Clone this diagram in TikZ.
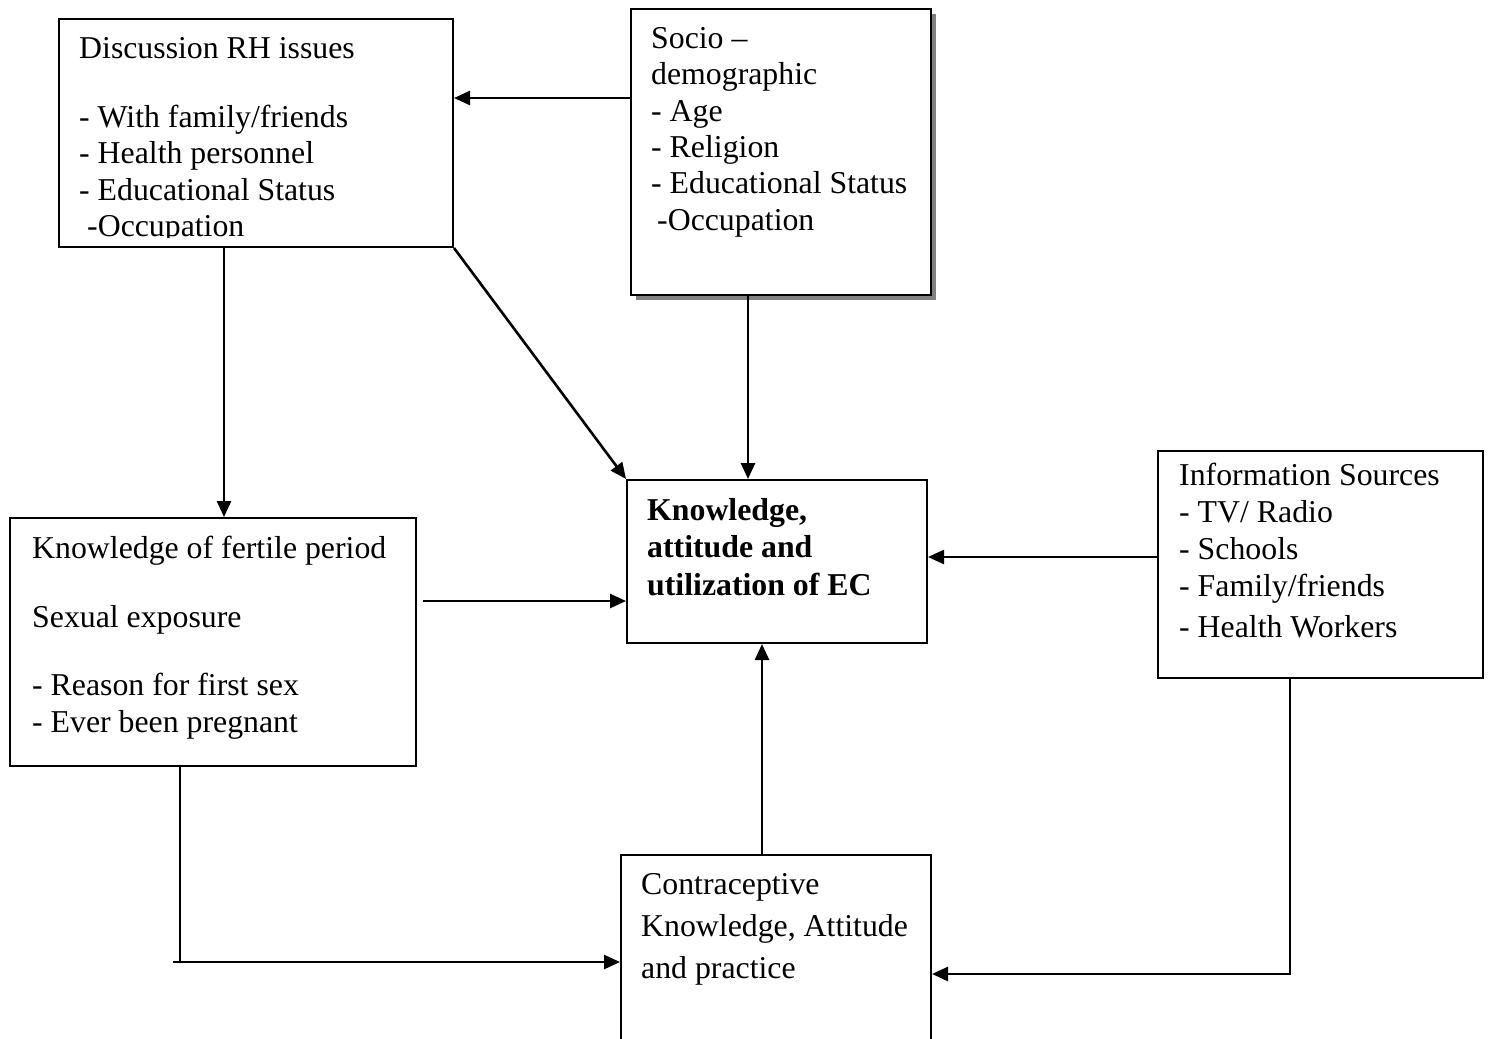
\documentclass[tikz,border=0pt]{standalone}
\usepackage{fontspec}
\setmainfont{Liberation Serif}
\usetikzlibrary{arrows.meta,shadows}
\newcommand{\fsz}[1]{\fontsize{31.8}{#1}\selectfont}
\begin{document}
\begin{tikzpicture}[x=1pt,y=-1pt,
  box/.style={draw, line width=2pt, rectangle, anchor=north west, inner sep=0pt, fill=white},
  link/.style={line width=2.6pt},
  conn/.style={link, -{Triangle[length=16pt,width=14pt]}},
  txt/.style={anchor=north west, inner sep=0pt, align=left}]
\path[use as bounding box, clip] (0,0) rectangle (1490,1038);

% boxes
\node[box, minimum width=394pt, minimum height=228pt] (A) at (58,18) {};
\node[box, minimum width=300pt, minimum height=286pt,
      drop shadow={shadow xshift=5pt, shadow yshift=-5pt, fill=gray, opacity=1}] (B) at (630,8) {};
\node[box, minimum width=300pt, minimum height=163pt] (C) at (626,479) {};
\node[box, minimum width=325pt, minimum height=227pt] (D) at (1157,450) {};
\node[box, minimum width=406pt, minimum height=248pt] (E) at (9,517) {};
\node[box, minimum width=310pt, minimum height=260pt] (F) at (620,854) {};

% texts
\begin{scope}
\clip (58,18) rectangle (452,237);
\node[txt, font=\fsz{36.5}, yshift=25.55pt] (tA) at (79,58)
  {\strut Discussion RH issues\\[32.5pt]
   - With family/friends\\
   - Health personnel\\
   - Educational Status\\
   \hspace*{8pt}-Occupation};
\end{scope}
\node[txt, font=\fsz{36.4}, yshift=25.48pt] (tB) at (651,48)
  {\strut Socio --\\
   demographic\\
   - Age\\
   - Religion\\
   - Educational Status\\
   \hspace*{6pt}-Occupation};
\node[txt, font=\fsz{37.5}\bfseries, yshift=26.25pt] (tC) at (647,520)
  {\strut Knowledge,\\
   attitude and\\
   utilization of EC};
\node[txt, font=\fsz{37}, yshift=25.9pt] (tD) at (1179,485)
  {\strut Information Sources\\
   - TV/ Radio\\
   - Schools\\
   - Family/friends\\[4pt]
   - Health Workers};
\node[txt, font=\fsz{37}, yshift=25.9pt] (tE) at (32,558)
  {\strut Knowledge of fertile period\\[32pt]
   Sexual exposure\\[31pt]
   - Reason for first sex\\
   - Ever been pregnant};
\node[txt, font=\fsz{42}, yshift=29.4pt] (tF) at (641,894)
  {\strut Contraceptive\\
   Knowledge, Attitude\\
   and practice};

% helper coordinates
\coordinate (y98) at (0,98);
\coordinate (x224) at (224,0);
\coordinate (x748) at (748,0);
\coordinate (y557) at (0,557);
\coordinate (y601) at (0,601);
\coordinate (s6) at (423,601);
\coordinate (x762) at (762,0);
\coordinate (x180) at (180,0);
\coordinate (y962) at (0,962);
\coordinate (s8) at (173,962);
\coordinate (x1290) at (1290,0);
\coordinate (y974) at (0,974);

% connectors
\draw[conn] (B.west |- y98) -- (A.east |- y98);
\draw[conn] (A.south -| x224) -- (E.north -| x224);
\draw[conn] (A.south east) -- (C.north west);
\draw[conn] (B.south -| x748) -- (C.north -| x748);
\draw[conn] (D.west |- y557) -- (C.east |- y557);
\draw[conn] (s6) -- (C.west |- y601);
\draw[conn] (F.north -| x762) -- (C.south -| x762);
\draw[link] (E.south -| x180) -- (x180 |- y962);
\draw[conn] (s8) -- (F.west |- y962);
\draw[conn] (D.south -| x1290) |- (F.east |- y974);
\end{tikzpicture}
\end{document}
